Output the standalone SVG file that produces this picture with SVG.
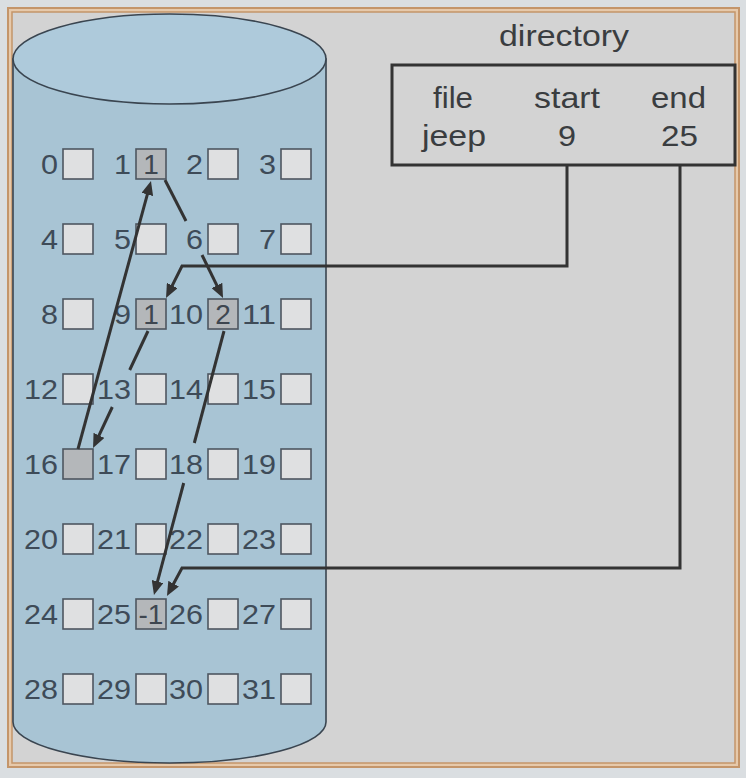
<svg xmlns="http://www.w3.org/2000/svg" width="746" height="778" viewBox="0 0 746 778">
<defs>
<style>
.lbl{font-family:"Liberation Sans",Arial,sans-serif;font-size:28px;fill:#3e4b58;text-anchor:end}
.in{font-family:"Liberation Sans",Arial,sans-serif;font-size:28px;fill:#3e4650;text-anchor:middle}
.dir{font-family:"Liberation Sans",Arial,sans-serif;font-size:30px;fill:#3a3d40;text-anchor:middle}
.box{fill:#dfe0e1;stroke:#4e5660;stroke-width:1.6}
.used{fill:#b4b7ba;stroke:#4e5660;stroke-width:1.6}
.con{fill:none;stroke:#333;stroke-width:3}
</style>
<marker id="ah" viewBox="0 0 14 12" refX="8" refY="6" markerWidth="14" markerHeight="12" markerUnits="userSpaceOnUse" orient="auto">
<path d="M0,0 L14,6 L0,12 z" fill="#333"/>
</marker>
</defs>
<rect width="746" height="778" fill="#dadee1"/>
<rect x="8" y="8" width="731" height="759" fill="#e6c9ab" stroke="#c4956a" stroke-width="2"/>
<rect x="12" y="12" width="723" height="751" fill="#d3d3d3" stroke="#c4956a" stroke-width="1.5"/>
<g id="disk">
<path d="M13,59 V722 A156.5,41 0 0 0 326,722 V59 Z" fill="#a8c4d4" stroke="#3a4550" stroke-width="1.6"/>
<ellipse cx="169.5" cy="59" rx="156.5" ry="45" fill="#aecadb" stroke="#3a4550" stroke-width="1.6"/>
</g>
<g id="directory">
<text class="dir" x="564" y="46" font-size="28" textLength="130" lengthAdjust="spacingAndGlyphs">directory</text>
<rect x="392" y="65" width="343" height="100" fill="none" stroke="#333" stroke-width="3"/>
<text class="dir" x="453" y="108" textLength="40" lengthAdjust="spacingAndGlyphs">file</text>
<text class="dir" x="567" y="108" textLength="66" lengthAdjust="spacingAndGlyphs">start</text>
<text class="dir" x="678.5" y="108" textLength="55" lengthAdjust="spacingAndGlyphs">end</text>
<text class="dir" x="454" y="146" textLength="64" lengthAdjust="spacingAndGlyphs">jeep</text>
<text class="dir" x="567" y="146" textLength="18" lengthAdjust="spacingAndGlyphs">9</text>
<text class="dir" x="679.5" y="146" textLength="37" lengthAdjust="spacingAndGlyphs">25</text>
</g>
<g id="blocks">
<g id="b0"><text class="lbl" x="58" y="174" textLength="17" lengthAdjust="spacingAndGlyphs">0</text><rect class="box" x="63" y="149" width="30" height="30"/></g>
<g id="b1"><text class="lbl" x="131" y="174" textLength="17" lengthAdjust="spacingAndGlyphs">1</text><rect class="used" x="136" y="149" width="30" height="30"/><text class="in" x="151" y="174">1</text></g>
<g id="b2"><text class="lbl" x="203" y="174" textLength="17" lengthAdjust="spacingAndGlyphs">2</text><rect class="box" x="208" y="149" width="30" height="30"/></g>
<g id="b3"><text class="lbl" x="276" y="174" textLength="17" lengthAdjust="spacingAndGlyphs">3</text><rect class="box" x="281" y="149" width="30" height="30"/></g>
<g id="b4"><text class="lbl" x="58" y="249" textLength="17" lengthAdjust="spacingAndGlyphs">4</text><rect class="box" x="63" y="224" width="30" height="30"/></g>
<g id="b5"><text class="lbl" x="131" y="249" textLength="17" lengthAdjust="spacingAndGlyphs">5</text><rect class="box" x="136" y="224" width="30" height="30"/></g>
<g id="b6"><text class="lbl" x="203" y="249" textLength="17" lengthAdjust="spacingAndGlyphs">6</text><rect class="box" x="208" y="224" width="30" height="30"/></g>
<g id="b7"><text class="lbl" x="276" y="249" textLength="17" lengthAdjust="spacingAndGlyphs">7</text><rect class="box" x="281" y="224" width="30" height="30"/></g>
<g id="b8"><text class="lbl" x="58" y="324" textLength="17" lengthAdjust="spacingAndGlyphs">8</text><rect class="box" x="63" y="299" width="30" height="30"/></g>
<g id="b9"><text class="lbl" x="131" y="324" textLength="17" lengthAdjust="spacingAndGlyphs">9</text><rect class="used" x="136" y="299" width="30" height="30"/><text class="in" x="151" y="324">1</text></g>
<g id="b10"><text class="lbl" x="203" y="324" textLength="34" lengthAdjust="spacingAndGlyphs">10</text><rect class="used" x="208" y="299" width="30" height="30"/><text class="in" x="223" y="324">2</text></g>
<g id="b11"><text class="lbl" x="276" y="324" textLength="34" lengthAdjust="spacingAndGlyphs">11</text><rect class="box" x="281" y="299" width="30" height="30"/></g>
<g id="b12"><text class="lbl" x="58" y="399" textLength="34" lengthAdjust="spacingAndGlyphs">12</text><rect class="box" x="63" y="374" width="30" height="30"/></g>
<g id="b13"><text class="lbl" x="131" y="399" textLength="34" lengthAdjust="spacingAndGlyphs">13</text><rect class="box" x="136" y="374" width="30" height="30"/></g>
<g id="b14"><text class="lbl" x="203" y="399" textLength="34" lengthAdjust="spacingAndGlyphs">14</text><rect class="box" x="208" y="374" width="30" height="30"/></g>
<g id="b15"><text class="lbl" x="276" y="399" textLength="34" lengthAdjust="spacingAndGlyphs">15</text><rect class="box" x="281" y="374" width="30" height="30"/></g>
<g id="b16"><text class="lbl" x="58" y="474" textLength="34" lengthAdjust="spacingAndGlyphs">16</text><rect class="used" x="63" y="449" width="30" height="30"/></g>
<g id="b17"><text class="lbl" x="131" y="474" textLength="34" lengthAdjust="spacingAndGlyphs">17</text><rect class="box" x="136" y="449" width="30" height="30"/></g>
<g id="b18"><text class="lbl" x="203" y="474" textLength="34" lengthAdjust="spacingAndGlyphs">18</text><rect class="box" x="208" y="449" width="30" height="30"/></g>
<g id="b19"><text class="lbl" x="276" y="474" textLength="34" lengthAdjust="spacingAndGlyphs">19</text><rect class="box" x="281" y="449" width="30" height="30"/></g>
<g id="b20"><text class="lbl" x="58" y="549" textLength="34" lengthAdjust="spacingAndGlyphs">20</text><rect class="box" x="63" y="524" width="30" height="30"/></g>
<g id="b21"><text class="lbl" x="131" y="549" textLength="34" lengthAdjust="spacingAndGlyphs">21</text><rect class="box" x="136" y="524" width="30" height="30"/></g>
<g id="b22"><text class="lbl" x="203" y="549" textLength="34" lengthAdjust="spacingAndGlyphs">22</text><rect class="box" x="208" y="524" width="30" height="30"/></g>
<g id="b23"><text class="lbl" x="276" y="549" textLength="34" lengthAdjust="spacingAndGlyphs">23</text><rect class="box" x="281" y="524" width="30" height="30"/></g>
<g id="b24"><text class="lbl" x="58" y="624" textLength="34" lengthAdjust="spacingAndGlyphs">24</text><rect class="box" x="63" y="599" width="30" height="30"/></g>
<g id="b25"><text class="lbl" x="131" y="624" textLength="34" lengthAdjust="spacingAndGlyphs">25</text><rect class="used" x="136" y="599" width="30" height="30"/><text class="in" x="151" y="624">-1</text></g>
<g id="b26"><text class="lbl" x="203" y="624" textLength="34" lengthAdjust="spacingAndGlyphs">26</text><rect class="box" x="208" y="599" width="30" height="30"/></g>
<g id="b27"><text class="lbl" x="276" y="624" textLength="34" lengthAdjust="spacingAndGlyphs">27</text><rect class="box" x="281" y="599" width="30" height="30"/></g>
<g id="b28"><text class="lbl" x="58" y="699" textLength="34" lengthAdjust="spacingAndGlyphs">28</text><rect class="box" x="63" y="674" width="30" height="30"/></g>
<g id="b29"><text class="lbl" x="131" y="699" textLength="34" lengthAdjust="spacingAndGlyphs">29</text><rect class="box" x="136" y="674" width="30" height="30"/></g>
<g id="b30"><text class="lbl" x="203" y="699" textLength="34" lengthAdjust="spacingAndGlyphs">30</text><rect class="box" x="208" y="674" width="30" height="30"/></g>
<g id="b31"><text class="lbl" x="276" y="699" textLength="34" lengthAdjust="spacingAndGlyphs">31</text><rect class="box" x="281" y="674" width="30" height="30"/></g>
</g>
<g id="connectors">
<path class="con" d="M567,166 V266 H182 L168.7,292.6" marker-end="url(#ah)"/>
<path class="con" d="M680,166 V568 H182 L169.8,590.7" marker-end="url(#ah)"/>
<path class="con" d="M148,331 L129.7,370"/>
<path class="con" d="M112.3,407 L95.6,442.6" marker-end="url(#ah)"/>
<path class="con" d="M78,449 L149.4,186.8" marker-end="url(#ah)"/>
<path class="con" d="M165,180 L186,221"/>
<path class="con" d="M202,255 L220.4,292.6" marker-end="url(#ah)"/>
<path class="con" d="M224,331 L194.3,443"/>
<path class="con" d="M183.7,483 L155.5,589.2" marker-end="url(#ah)"/>
</g>
</svg>
